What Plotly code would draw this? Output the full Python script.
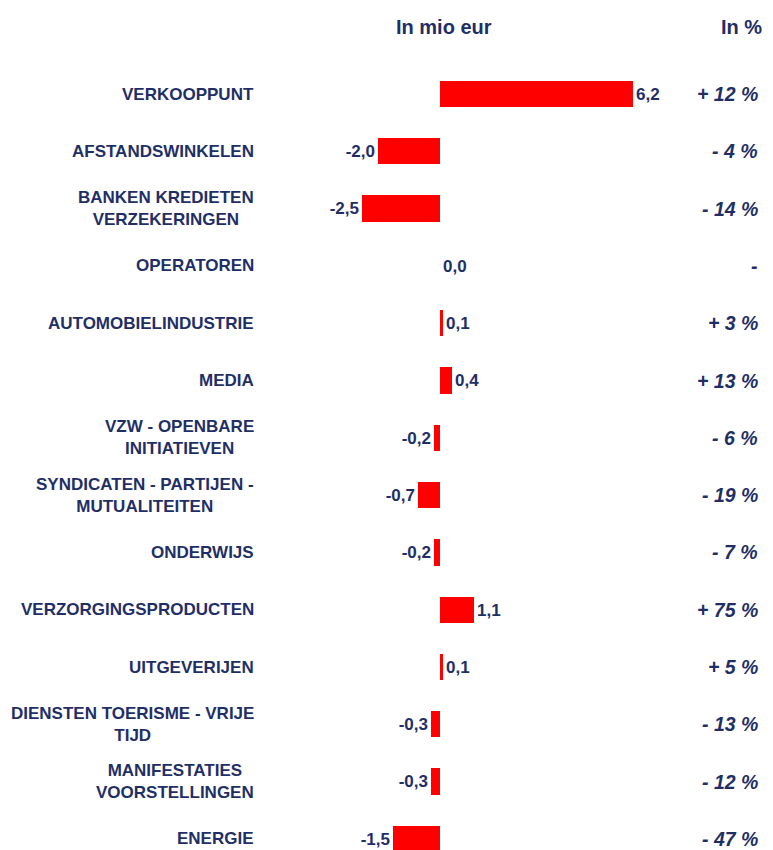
import plotly.graph_objects as go

categories = [
    "VERKOOPPUNT",
    "AFSTANDSWINKELEN",
    "BANKEN KREDIETEN<br>VERZEKERINGEN",
    "OPERATOREN",
    "AUTOMOBIELINDUSTRIE",
    "MEDIA",
    "VZW - OPENBARE<br>INITIATIEVEN",
    "SYNDICATEN - PARTIJEN -<br>MUTUALITEITEN",
    "ONDERWIJS",
    "VERZORGINGSPRODUCTEN",
    "UITGEVERIJEN",
    "DIENSTEN TOERISME - VRIJE<br>TIJD",
    "MANIFESTATIES<br>VOORSTELLINGEN",
    "ENERGIE",
]
values_mio_eur = [6.2, -2.0, -2.5, 0.0, 0.1, 0.4, -0.2, -0.7, -0.2, 1.1, 0.1, -0.3, -0.3, -1.5]
percent_labels = ["+ 12 %", "- 4 %", "- 14 %", "-", "+ 3 %", "+ 13 %", "- 6 %", "- 19 %",
                  "- 7 %", "+ 75 %", "+ 5 %", "- 13 %", "- 12 %", "- 47 %"]

NAVY = "#1f2f66"
RED = "#ff0000"
FONT = "Liberation Sans"

# the page body adds an 8px offset; size the figure so it fills the 773x850 window
OFF = 8
W, H = 773 - OFF, 850 - OFF


def fx(px):
    return (px - OFF) / W


def fy(px):
    return 1 - (px - OFF) / H


rows = list(range(len(categories)))
value_text = [f"{v:.1f}".replace(".", ",") for v in values_mio_eur]

fig = go.Figure()
fig.add_trace(go.Bar(
    x=values_mio_eur,
    y=rows,
    orientation="h",
    marker=dict(color=RED, line=dict(width=0)),
    width=0.46,
    text=value_text,
    textposition="outside",
    textfont=dict(family=FONT, size=17, color=NAVY, weight="bold"),
    cliponaxis=False,
    hoverinfo="skip",
))

annotations = []
for i, (cat, pct) in enumerate(zip(categories, percent_labels)):
    annotations.append(dict(
        x=fx(256), xref="paper", y=i, yref="y", xanchor="right", yanchor="middle",
        text=f"<b>{cat}</b>", showarrow=False, align="center",
        font=dict(family=FONT, size=17, color=NAVY),
    ))
    annotations.append(dict(
        x=fx(760), xref="paper", y=i, yref="y", xanchor="right", yanchor="middle",
        text=f"<b><i>{pct}</i></b>", showarrow=False,
        font=dict(family=FONT, size=19.5, color=NAVY),
    ))

annotations.append(dict(
    x=fx(444), xref="paper", y=fy(27), yref="paper", xanchor="center", yanchor="middle",
    text="<b>In mio eur</b>", showarrow=False,
    font=dict(family=FONT, size=20, color=NAVY),
))
annotations.append(dict(
    x=fx(764), xref="paper", y=fy(27), yref="paper", xanchor="right", yanchor="middle",
    text="<b>In %</b>", showarrow=False,
    font=dict(family=FONT, size=20, color=NAVY),
))

# zero at x=440px, ~31.15 px per unit; row pitch 57.3 px, first row centre at 94px (window px)
px_per_unit = 31.15
row_px = 57.3
zero_x = 440 - OFF
first_y = 94 - OFF
fig.update_layout(
    width=W, height=H,
    margin=dict(l=0, r=0, t=0, b=0),
    paper_bgcolor="white", plot_bgcolor="white",
    showlegend=False,
    bargap=0,
    xaxis=dict(range=[-zero_x / px_per_unit, (W - zero_x) / px_per_unit],
               visible=False, fixedrange=True),
    yaxis=dict(range=[(H - first_y) / row_px, -first_y / row_px],
               visible=False, fixedrange=True),
    annotations=annotations,
)

fig.write_html("out.html")
